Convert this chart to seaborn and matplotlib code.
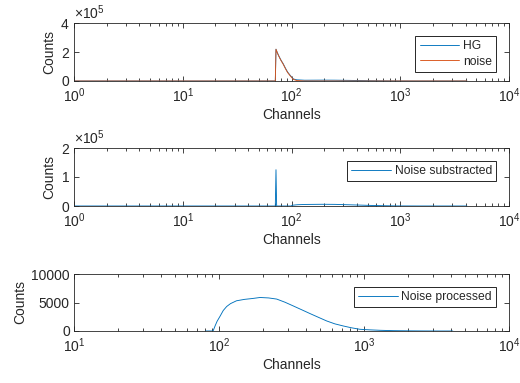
import matplotlib
matplotlib.use("Agg")
import matplotlib.pyplot as plt
import matplotlib.ticker as mticker
import seaborn as sns
import pandas as pd

# Raw high-gain spectrum and the noise spectrum (counts per channel)
ch_raw = [1, 71, 72, 74, 76, 78, 80, 84, 88, 92, 97, 104, 112, 132, 192, 250,
          325, 424, 553, 720, 937, 1500, 4096]
hg_counts = [0, 0, 219000, 196000, 177000, 160000, 144000, 118000, 88000, 62000,
             40000, 14000, 8000, 5300, 5900, 5600, 4400, 3100, 1800, 900, 300, 60, 0]
noise_counts = [0, 0, 219000, 195000, 175000, 158000, 142000, 115000, 85000, 59000,
                37000, 11000, 3000, 0, 0, 0, 0, 0, 0, 0, 0, 0, 0]

# Spectrum after noise subtraction
ch_sub = [1, 71, 72, 73, 99, 100, 102, 113, 132, 192, 250, 325, 424, 553, 720,
          937, 1500, 4096]
sub_counts = [0, 0, 125000, 0, 0, 900, 2650, 4300, 5300, 5900, 5600, 4400, 3100,
              1800, 900, 300, 60, 0]

# Processed spectrum
ch_proc = [81, 88, 91, 94, 97, 102, 107, 113, 120, 132, 150, 170, 192, 220, 250,
           285, 325, 370, 424, 485, 553, 630, 720, 820, 937, 1100, 1300, 1600,
           2000, 2600, 3300, 4096]
proc_counts = [0, 0, 0, 900, 1700, 2650, 3600, 4300, 4800, 5300, 5550, 5700, 5880,
               5800, 5600, 5050, 4400, 3750, 3060, 2400, 1760, 1250, 880, 560, 300,
               200, 120, 60, 30, 10, 0, 0]

x_ticks_full = [1, 10, 100, 1000, 10000]
x_ticks_proc = [10, 100, 1000, 10000]

BLUE = "#0072BD"
ORANGE = "#D95319"
DARK = "#262626"

sns.set_theme(style="ticks")
plt.rcParams["font.family"] = ["Liberation Sans", "DejaVu Sans"]
plt.rcParams["mathtext.fontset"] = "custom"
plt.rcParams["mathtext.rm"] = "Liberation Sans"
plt.rcParams["mathtext.it"] = "Liberation Sans:italic"
plt.rcParams["mathtext.bf"] = "Liberation Sans:bold"

fig = plt.figure(figsize=(5.2, 3.83), dpi=100)
W, H = 520, 383
left, right = 74, 509
boxes = [(23, 81), (148, 206), (274, 331)]
axes = [fig.add_axes([left / W, 1 - b / H, (right - left) / W, (b - t) / H])
        for t, b in boxes]

df_raw = pd.DataFrame({"ch": ch_raw, "HG": hg_counts, "noise": noise_counts})
df_sub = pd.DataFrame({"ch": ch_sub, "counts": sub_counts})
df_proc = pd.DataFrame({"ch": ch_proc, "counts": proc_counts})

lw = 0.65
sns.lineplot(data=df_raw, x="ch", y="HG", ax=axes[0], color=BLUE, lw=lw,
             label="HG", estimator=None, sort=False)
sns.lineplot(data=df_raw, x="ch", y="noise", ax=axes[0], color=ORANGE, lw=lw,
             label="noise", estimator=None, sort=False)
sns.lineplot(data=df_sub, x="ch", y="counts", ax=axes[1], color=BLUE, lw=lw,
             label="Noise substracted", estimator=None, sort=False)
sns.lineplot(data=df_proc, x="ch", y="counts", ax=axes[2], color=BLUE, lw=lw,
             label="Noise processed", estimator=None, sort=False)

ylims = [(0, 4e5), (0, 2e5), (0, 10000)]
yticks = [[0, 2e5, 4e5], [0, 1e5, 2e5], [0, 5000, 10000]]
xlims = [(1, 1e4), (1, 1e4), (10, 1e4)]
xticks = [x_ticks_full, x_ticks_full, x_ticks_proc]

for i, ax in enumerate(axes):
    ax.set_xscale("log")
    ax.set_xlim(*xlims[i])
    ax.set_ylim(*ylims[i])
    ax.set_xticks(xticks[i])
    ax.set_yticks(yticks[i])
    ax.xaxis.set_minor_locator(mticker.LogLocator(base=10, subs=range(2, 10), numticks=20))
    ax.xaxis.set_minor_formatter(mticker.NullFormatter())
    if i < 2:
        fmt = mticker.ScalarFormatter(useMathText=True)
        fmt.set_powerlimits((0, 0))
        ax.yaxis.set_major_formatter(fmt)
        ax.yaxis.get_offset_text().set_fontsize(10)
        ax.yaxis.get_offset_text().set_color(DARK)
    else:
        fmt = mticker.ScalarFormatter()
        fmt.set_scientific(False)
        fmt.set_useOffset(False)
        ax.yaxis.set_major_formatter(fmt)
    ax.tick_params(axis="both", which="both", direction="in", top=True, right=True,
                   colors=DARK, labelsize=10, width=0.6)
    ax.tick_params(axis="both", which="major", length=3.5)
    ax.tick_params(axis="y", which="major", pad=3)
    ax.tick_params(axis="x", which="major", pad=4)
    ax.tick_params(axis="x", which="minor", length=2)
    for s in ax.spines.values():
        s.set_visible(True)
        s.set_color(DARK)
        s.set_linewidth(0.6)
    ax.set_xlabel("Channels", fontsize=10, color=DARK, labelpad=2)
    ax.set_ylabel("Counts", fontsize=10, color=DARK, labelpad=3)
    leg = ax.legend(loc="upper right", fontsize=8.7, frameon=True, fancybox=False,
                    handlelength=3.3, handletextpad=0.3, borderpad=0.35,
                    labelspacing=0.3, borderaxespad=1.05)
    leg.get_frame().set_edgecolor(DARK)
    leg.get_frame().set_linewidth(0.7)
    leg.get_frame().set_alpha(1)

fig.savefig("out.png", dpi=100)
